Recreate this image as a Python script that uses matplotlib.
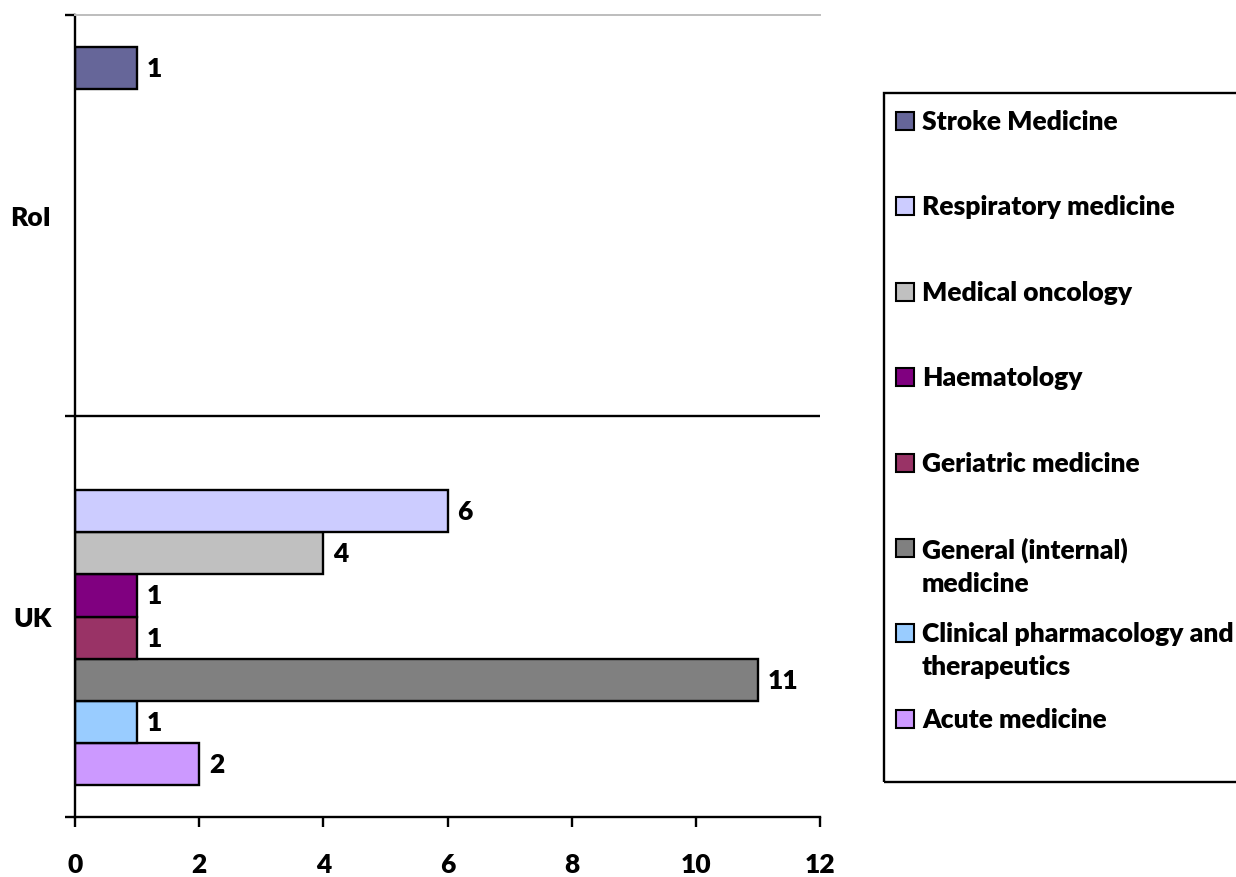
import numpy as np
import matplotlib.pyplot as plt
from matplotlib.patches import Rectangle

plt.rcParams['font.family'] = ['Lato', 'DejaVu Sans']
plt.rcParams['font.weight'] = 'heavy'
wt = 'heavy'

# Trainee counts by specialty, per region
regions = ['UK', 'RoI']
specialties = ['Acute medicine',
               'Clinical pharmacology and\ntherapeutics',
               'General (internal)\nmedicine',
               'Geriatric medicine',
               'Haematology',
               'Medical oncology',
               'Respiratory medicine',
               'Stroke Medicine']
counts_uk = [2, 1, 11, 1, 1, 4, 6, 0]
counts_roi = [0, 0, 0, 0, 0, 0, 0, 1]
colors = ['#CC99FF', '#99CCFF', '#808080', '#993366',
          '#800080', '#C0C0C0', '#CCCCFF', '#666699']
xticks = [0, 2, 4, 6, 8, 10, 12]

W, H = 1236, 878
fig = plt.figure(figsize=(W / 100, H / 100), dpi=100)
ax = fig.add_axes([75 / W, 1 - 818 / H, (820 - 75) / W, (818 - 16) / H])

fs = 19
n = len(specialties)
h = 1 / (n + 1.5)   # 150% gap between clusters
ypos = np.arange(len(regions))

for i, name in enumerate(specialties):
    vals = np.array([counts_uk[i], counts_roi[i]])
    keep = vals > 0
    y = ypos[keep] + (i - (n - 1) / 2) * h
    bars = ax.barh(y, vals[keep], height=h, color=colors[i],
                   edgecolor='black', linewidth=1.7)
    ax.bar_label(bars, labels=[str(v) for v in vals[keep]], padding=7,
                 fontsize=fs, fontweight=wt)

ax.set_xlim(0, 12)
ax.set_ylim(-0.5, 1.5)
ax.set_xticks(xticks)
ax.set_xticklabels([str(t) for t in xticks], fontsize=fs, fontweight=wt)
ax.tick_params(axis='x', length=7, width=1.7, pad=18)

# boundaries get tick marks, centres get the region names
ax.set_yticks([-0.5, 0.5, 1.5])
ax.set_yticklabels([])
ax.set_yticks(ypos, minor=True)
ax.set_yticklabels(regions, minor=True, fontsize=fs, fontweight=wt)
ax.tick_params(axis='y', which='major', length=7, width=1.7)
ax.tick_params(axis='y', which='minor', length=0, pad=17)

ax.axhline(0.5, color='black', linewidth=1.7, zorder=0)
ax.spines['right'].set_visible(False)
ax.spines['top'].set_color('#bdbdbd')
ax.spines['top'].set_linewidth(1.4)
for s in ('left', 'bottom'):
    ax.spines[s].set_linewidth(1.7)

# legend box, entries listed top to bottom in reverse series order
def fx(px):
    return px / W


def fy(py):
    return 1 - py / H


fig.add_artist(Rectangle((fx(884), fy(783)), fx(1300) - fx(884), fy(94) - fy(783),
                         transform=fig.transFigure, facecolor='none',
                         edgecolor='black', linewidth=1.7))
for k, i in enumerate(range(n - 1, -1, -1)):
    cy = 122 + k * 85.4
    fig.add_artist(Rectangle((fx(896), fy(cy + 9)), fx(18), 18 / H,
                             transform=fig.transFigure, facecolor=colors[i],
                             edgecolor='black', linewidth=1.5))
    fig.text(fx(922), fy(cy - 12), specialties[i], fontsize=fs,
             fontweight=wt, va='top', ha='left', linespacing=1.45)

fig.savefig('out.png', dpi=100)
